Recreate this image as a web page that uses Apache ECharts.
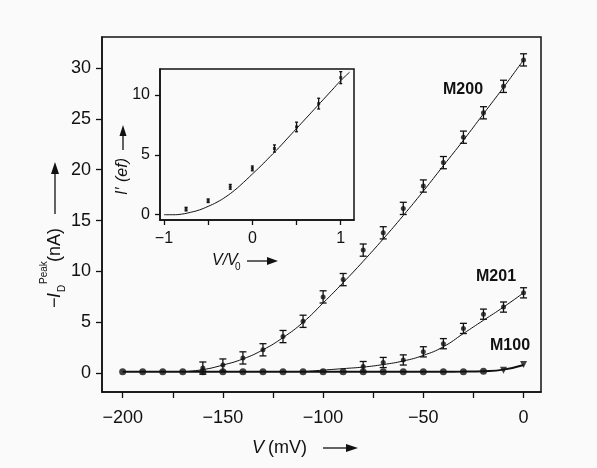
<!DOCTYPE html>
<html>
<head>
<meta charset="utf-8">
<script src="https://cdn.jsdelivr.net/npm/echarts@6/dist/echarts.min.js"></script>
<style>
  html, body { margin: 0; padding: 0; background: #fafafa; }
  #chart { width: 597px; height: 468px; }
</style>
</head>
<body>
<div id="chart"></div>
<script>
// main panel: peak current vs voltage
const vM200 = [-160, -150, -140, -130, -120, -110, -100, -90, -80, -70, -60, -50, -40, -30, -20, -10, 0];
const iM200 = [0.5, 0.8, 1.5, 2.3, 3.6, 5.1, 7.5, 9.2, 12.1, 13.8, 16.2, 18.4, 20.7, 23.2, 25.6, 28.2, 30.8];
const eM200 = [0.6, 0.6, 0.6, 0.6, 0.6, 0.6, 0.6, 0.6, 0.6, 0.6, 0.6, 0.6, 0.6, 0.6, 0.6, 0.6, 0.6];
const fitVM200 = [-170, -160, -150, -140, -130, -120, -110, -100, -90, -80, -70, -60, -50, -40, -30, -20, -10, 0];
const fitM200 = [0.15, 0.35, 0.8, 1.4, 2.3, 3.5, 5.0, 6.9, 8.9, 11.0, 13.2, 15.5, 17.9, 20.4, 22.9, 25.5, 28.1, 30.8];

const vM201 = [-80, -70, -60, -50, -40, -30, -20, -10, 0];
const iM201 = [0.65, 1.05, 1.3, 2.1, 2.9, 4.4, 5.8, 6.5, 7.9];
const eM201 = [0.5, 0.5, 0.5, 0.5, 0.5, 0.5, 0.5, 0.5, 0.5];
const fitVM201 = [-110, -100, -90, -80, -70, -60, -50, -40, -30, -20, -10, 0];
const fitM201 = [0.15, 0.3, 0.45, 0.6, 0.85, 1.2, 1.75, 2.6, 3.9, 5.2, 6.5, 7.9];

const vM100 = [-200, -190, -180, -170, -160, -150, -140, -130, -120, -110, -100, -90, -80, -70, -60, -50, -40, -30, -20, -10, 0];
const iM100 = [0.15, 0.15, 0.15, 0.15, 0.15, 0.15, 0.15, 0.15, 0.15, 0.15, 0.15, 0.15, 0.15, 0.15, 0.15, 0.15, 0.15, 0.15, 0.18, 0.28, 0.85];
const fitM100 = [0.15, 0.15, 0.15, 0.15, 0.15, 0.15, 0.15, 0.15, 0.15, 0.15, 0.15, 0.15, 0.15, 0.15, 0.15, 0.15, 0.15, 0.16, 0.2, 0.35, 0.8];

const xTicks = [-200, -175, -150, -125, -100, -75, -50, -25, 0];
const xLabels = [-200, -150, -100, -50, 0];
const yTicks = [0, 5, 10, 15, 20, 25, 30];

// inset: normalised curve
const vIn = [-0.75, -0.5, -0.25, 0, 0.25, 0.5, 0.75, 1.0];
const iIn = [0.47, 1.17, 2.33, 3.87, 5.53, 7.33, 9.28, 11.45];
const eIn = [0.15, 0.15, 0.2, 0.2, 0.3, 0.4, 0.45, 0.5];
const fitVIn = [-1, -0.9, -0.8, -0.7, -0.6, -0.5, -0.4, -0.3, -0.2, -0.1, 0, 0.1, 0.2, 0.3, 0.4, 0.5, 0.6, 0.7, 0.8, 0.9, 1.0, 1.1];
const fitIn = [0, 0, 0.05, 0.2, 0.4, 0.7, 1.05, 1.5, 2.05, 2.7, 3.4, 4.1, 4.85, 5.6, 6.4, 7.2, 8.0, 8.8, 9.6, 10.4, 11.2, 11.9];
const inXTicks = [-1, -0.5, 0, 0.5, 1];
const inXLabels = [-1, 0, 1];
const inYTicks = [0, 5, 10];

const FONT = "'Liberation Sans', Arial, sans-serif";
const INK = '#111';

function pairs(xs, ys) {
  return xs.map((x, i) => [x, ys[i]]);
}
function minus(v) {
  return String(v).replace('-', '\u2212');
}

function errorBars(xs, ys, es, cap, xi, yi) {
  return {
    type: 'custom',
    xAxisIndex: xi,
    yAxisIndex: yi,
    z: 3,
    encode: { x: 0, y: 1 },
    data: xs.map((x, i) => [x, ys[i], es[i]]),
    renderItem: function (params, api) {
      const x = api.value(0), y = api.value(1), e = api.value(2);
      const top = api.coord([x, y + e]);
      const bot = api.coord([x, y - e]);
      const style = { stroke: INK, lineWidth: 1.3 };
      return {
        type: 'group',
        children: [
          { type: 'line', shape: { x1: top[0], y1: top[1], x2: bot[0], y2: bot[1] }, style: style },
          { type: 'line', shape: { x1: top[0] - cap, y1: top[1], x2: top[0] + cap, y2: top[1] }, style: style },
          { type: 'line', shape: { x1: bot[0] - cap, y1: bot[1], x2: bot[0] + cap, y2: bot[1] }, style: style }
        ]
      };
    }
  };
}

function fitLine(xs, ys, xi, yi, w) {
  return {
    type: 'line', xAxisIndex: xi, yAxisIndex: yi, smooth: true, showSymbol: false,
    data: pairs(xs, ys), lineStyle: { color: INK, width: w || 1 }, z: 2
  };
}

function axisX(grid, min, max, ticks, labels, fs, margin, len) {
  return {
    type: 'value', gridIndex: grid, min: min, max: max,
    splitLine: { show: false },
    axisLine: { show: true, onZero: false, lineStyle: { color: INK, width: 1.5 } },
    axisTick: { show: true, customValues: ticks, length: len, lineStyle: { color: INK, width: 1.3 } },
    axisLabel: { customValues: labels, fontFamily: FONT, fontSize: fs, color: INK, margin: margin, formatter: minus }
  };
}
function axisY(grid, min, max, ticks, fs, margin, len) {
  return {
    type: 'value', gridIndex: grid, min: min, max: max,
    splitLine: { show: false },
    axisLine: { show: true, onZero: false, lineStyle: { color: INK, width: 1.5 } },
    axisTick: { show: true, customValues: ticks, length: len, lineStyle: { color: INK, width: 1.3 } },
    axisLabel: { customValues: ticks, fontFamily: FONT, fontSize: fs, color: INK, margin: margin, formatter: minus }
  };
}

const chart = echarts.init(document.getElementById('chart'));

const m100Data = pairs(vM100, iM100).map((p, i) => {
  if (i >= vM100.length - 2) {
    return { value: p, symbol: 'triangle', symbolRotate: 180, symbolSize: 7 };
  }
  return p;
});

function txt(x, y, text, fs, extra) {
  return {
    type: 'text', x: x, y: y,
    style: Object.assign({ text: text, fontFamily: FONT, fontSize: fs, fill: INK, verticalAlign: 'middle', align: 'left' }, extra || {})
  };
}

chart.setOption({
  animation: false,
  backgroundColor: '#fafafa',
  grid: [
    { left: 102, top: 37, width: 439, height: 355, show: true, borderColor: INK, borderWidth: 1.5, backgroundColor: 'transparent' },
    { left: 160, top: 69, width: 194, height: 151, show: true, borderColor: INK, borderWidth: 1.5, backgroundColor: 'transparent' }
  ],
  xAxis: [
    axisX(0, -210.3, 8.7, xTicks, xLabels, 18, 17, 6),
    axisX(1, -1.045, 1.15, inXTicks, inXLabels, 16, 11, 5)
  ],
  yAxis: [
    axisY(0, -1.85, 33.05, yTicks, 18, 11, 6),
    axisY(1, -0.44, 12.17, inYTicks, 16, 10, 5)
  ],
  series: [
    fitLine(vM100, fitM100, 0, 0, 2),
    fitLine(fitVM200, fitM200, 0, 0),
    fitLine(fitVM201, fitM201, 0, 0),
    {
      type: 'scatter', xAxisIndex: 0, yAxisIndex: 0, symbol: 'circle', symbolSize: 7,
      itemStyle: { color: INK }, data: m100Data, z: 4
    },
    errorBars(vM200, iM200, eM200, 3.5, 0, 0),
    {
      type: 'scatter', xAxisIndex: 0, yAxisIndex: 0, symbol: 'circle', symbolSize: 5,
      itemStyle: { color: INK }, data: pairs(vM200, iM200), z: 4
    },
    errorBars(vM201, iM201, eM201, 3.5, 0, 0),
    {
      type: 'scatter', xAxisIndex: 0, yAxisIndex: 0, symbol: 'circle', symbolSize: 5,
      itemStyle: { color: INK }, data: pairs(vM201, iM201), z: 4
    },
    fitLine(fitVIn, fitIn, 1, 1),
    errorBars(vIn, iIn, eIn, 1.5, 1, 1),
    {
      type: 'scatter', xAxisIndex: 1, yAxisIndex: 1, symbol: 'rect', symbolSize: 3,
      itemStyle: { color: INK }, data: pairs(vIn, iIn), z: 4
    }
  ],
  graphic: [
    // series names
    txt(443, 90, 'M200', 16, { fontWeight: 'bold' }),
    txt(476, 277, 'M201', 16, { fontWeight: 'bold' }),
    txt(490, 346, 'M100', 16, { fontWeight: 'bold' }),
    // main y axis name
    {
      type: 'group', x: 55, y: 265, rotation: Math.PI / 2,
      children: [
        txt(-43, 0, '\u2212', 18),
        txt(-33, 0, 'I', 18, { fontStyle: 'italic' }),
        txt(-27, 7, 'D', 10),
        txt(-19, -11, 'Peak', 10),
        txt(3, 0, '(nA)', 18)
      ]
    },
    { type: 'line', shape: { x1: 55, y1: 214, x2: 55, y2: 172 }, style: { stroke: INK, lineWidth: 1.3 } },
    { type: 'polygon', shape: { points: [[55, 162], [51, 174], [59, 174]] }, style: { fill: INK } },
    // main x axis name
    txt(252, 448, 'V', 18, { fontStyle: 'italic' }),
    txt(268, 448, '(mV)', 18),
    { type: 'line', shape: { x1: 323, y1: 448, x2: 347, y2: 448 }, style: { stroke: INK, lineWidth: 1.3 } },
    { type: 'polygon', shape: { points: [[358, 448], [346, 444], [346, 452]] }, style: { fill: INK } },
    // inset y axis name
    {
      type: 'group', x: 123, y: 172, rotation: Math.PI / 2,
      children: [
        txt(-23, 0, 'I\u2032', 16, { fontStyle: 'italic' }),
        txt(-10, 0, '(ef)', 16, { fontStyle: 'italic' })
      ]
    },
    { type: 'line', shape: { x1: 123, y1: 150, x2: 123, y2: 134 }, style: { stroke: INK, lineWidth: 1.3 } },
    { type: 'polygon', shape: { points: [[123, 125], [119.5, 136], [126.5, 136]] }, style: { fill: INK } },
    // inset x axis name
    txt(212, 261, 'V/V', 16, { fontStyle: 'italic' }),
    txt(235, 267, '0', 10),
    { type: 'line', shape: { x1: 247, y1: 261, x2: 268, y2: 261 }, style: { stroke: INK, lineWidth: 1.3 } },
    { type: 'polygon', shape: { points: [[278, 261], [267, 257], [267, 265]] }, style: { fill: INK } }
  ]
});
</script>
</body>
</html>
